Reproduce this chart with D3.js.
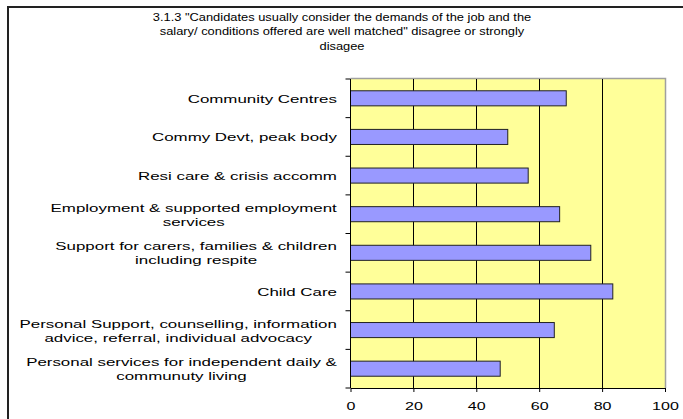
<!DOCTYPE html>
<html><head><meta charset="utf-8">
<script src="https://cdn.jsdelivr.net/npm/d3@7"></script>
<style>body{margin:0;background:#fff;} text{font-family:"Liberation Sans",Arial,sans-serif;fill:#000;}</style>
</head><body>
<svg id="c" width="683" height="419"></svg>
<script>
const categories = [
  "Community Centres",
  "Commy Devt, peak body",
  "Resi care & crisis accomm",
  "Employment & supported employment|services",
  "Support for carers, families & children|including respite",
  "Child Care",
  "Personal Support, counselling, information|advice, referral, individual advocacy",
  "Personal services for independent daily &|communuty living"
];
const values = [68.6, 50.0, 56.5, 66.5, 76.4, 83.4, 64.8, 47.6];
const xTicks = [0, 20, 40, 60, 80, 100];
const titleLines = [
  '3.1.3 "Candidates usually consider the demands of the job and the',
  'salary/ conditions offered are well matched" disagree or strongly',
  'disagee'
];

const svg = d3.select("#c");
const SX = 1.47;      // horizontal stretch of label text
const TSX = 1.12;     // horizontal stretch of title text

// outer frame
svg.append("rect").attr("x",8).attr("y",7).attr("width",700).attr("height",430)
  .attr("fill","#fff").attr("stroke","#222").attr("stroke-width",2);

const L = 350.5, R = 665, T = 79, B = 388;
const x = d3.scaleLinear().domain([0,100]).range([L,R]);
const y = d3.scaleBand().domain(categories).range([T,B]).paddingInner(0.61).paddingOuter(0.305);

// title
const tg = svg.append("g").attr("transform",`translate(342,0) scale(${TSX},1)`);
tg.selectAll("text").data(titleLines).join("text")
  .attr("x",0).attr("y",(d,i)=>21+i*14.5).attr("text-anchor","middle")
  .attr("font-size",11.5).text(d=>d);

// plot background
svg.append("rect").attr("x",L).attr("y",T).attr("width",R-L).attr("height",B-T).attr("fill","#FFFF99");
// plot border top/right grey
svg.append("path").attr("d",`M${L},${T-0.5}H${R+0.5}V${B}`).attr("fill","none").attr("stroke","#a0a0a0").attr("stroke-width",1.5);

// gridlines
svg.append("g").selectAll("line").data(xTicks.filter(t=>t>0&&t<100)).join("line")
  .attr("x1",d=>Math.round(x(d))+0.5).attr("x2",d=>Math.round(x(d))+0.5)
  .attr("y1",T).attr("y2",B).attr("stroke","#000").attr("stroke-width",1);

// bars
svg.append("g").selectAll("rect").data(categories).join("rect")
  .attr("x",x(0)).attr("y",(d)=>y(d))
  .attr("width",(d,i)=>x(values[i])-x(0)).attr("height",y.bandwidth())
  .attr("fill","#9999FF").attr("stroke","#222").attr("stroke-width",1);

// x axis
const xAxis = d3.axisBottom(x).tickValues(xTicks).tickSize(4).tickSizeOuter(0);
const gx = svg.append("g").attr("transform",`translate(0,${B})`).call(xAxis);
gx.select(".domain").attr("stroke","#000");
gx.selectAll(".tick text").each(function(){
  const t = d3.select(this);
  t.attr("font-size",11.5).attr("dy","1.3em").attr("transform",`scale(${SX*0.95},1)`)
   .style("font-family","Liberation Sans, Arial, sans-serif");
});

// y axis line and ticks at band boundaries
svg.append("line").attr("x1",L).attr("x2",L).attr("y1",T).attr("y2",B).attr("stroke","#000");
svg.append("g").selectAll("line").data(d3.range(categories.length+1)).join("line")
  .attr("x1",L-5).attr("x2",L).attr("y1",d=>T+d*(B-T)/categories.length).attr("y2",d=>T+d*(B-T)/categories.length)
  .attr("stroke","#000");

// category labels
const lblG = svg.append("g");
categories.forEach((c,i)=>{
  const lines = c.split("|");
  const cy = y(c) + y.bandwidth()/2;
  const g = lblG.append("g");
  const texts = lines.map((ln,j)=> g.append("text")
    .attr("font-size",11.5).attr("text-anchor","middle").attr("x",0)
    .attr("y", cy + (j-(lines.length-1)/2)*14 + 4.5).text(ln));
  const w = d3.max(texts, t=>t.node().getComputedTextLength());
  g.attr("transform",`translate(${337 - w*SX/2},0) scale(${SX},1)`);
});
</script>
</body></html>
